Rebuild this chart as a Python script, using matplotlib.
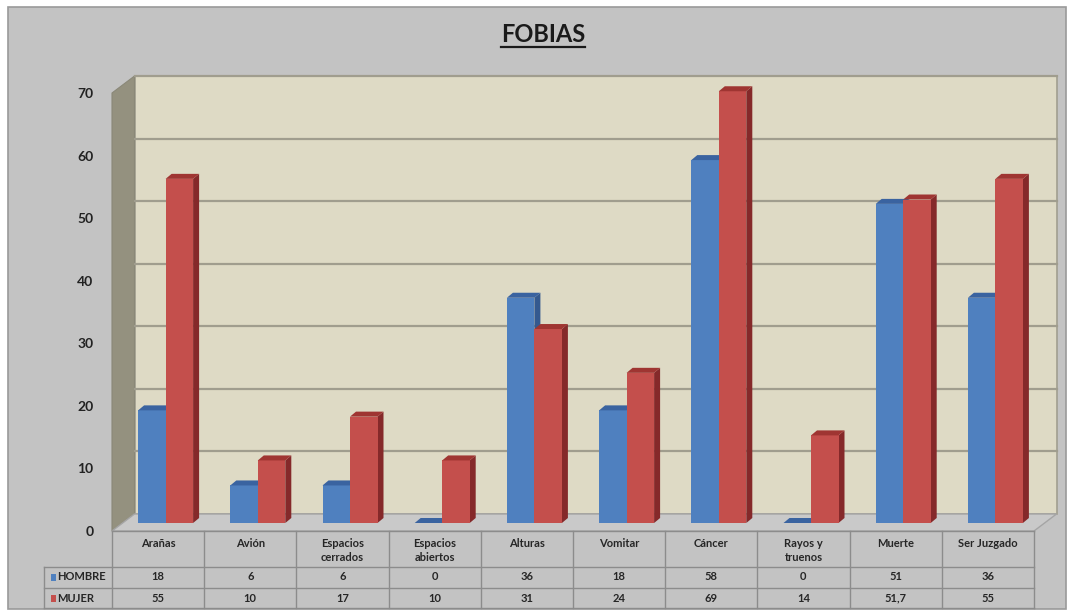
import matplotlib.pyplot as plt
import matplotlib.transforms as mtransforms
from matplotlib.patches import Polygon, Rectangle
from matplotlib.lines import Line2D

plt.rcParams['font.family'] = ['Lato', 'DejaVu Sans']

categories = ["Arañas", "Avión", "Espacios\ncerrados", "Espacios\nabiertos", "Alturas",
              "Vomitar", "Cáncer", "Rayos y\ntruenos", "Muerte", "Ser Juzgado"]
hombre = [18, 6, 6, 0, 36, 18, 58, 0, 51, 36]
mujer = [55, 10, 17, 10, 31, 24, 69, 14, 51.7, 55]
series_names = ["HOMBRE", "MUJER"]
yticks = [0, 10, 20, 30, 40, 50, 60, 70]

W, H = 1071, 614
fig = plt.figure(figsize=(W / 100, H / 100), dpi=100)
fig.patch.set_facecolor('white')


def fx(px):
    return px / W


def fy(py):
    return 1 - py / H


# outer chart frame (kept behind the axes)
fig.patches.append(Rectangle((fx(8), fy(609)), fx(1066) - fx(8), fy(7) - fy(609),
                             transform=fig.transFigure, facecolor='#c3c3c3',
                             edgecolor='#9a9a9a', lw=1.2, zorder=-10))

# plot area: y value 0 at pixel 531, 70 at pixel 93
ppu = (531 - 93) / 70.0
ytop = 75
ax = fig.add_axes([fx(112), fy(531), fx(1034) - fx(112), (ytop * ppu) / H])
ax.set_xlim(-0.5, 9.5)
ax.set_ylim(0, ytop)
ax.patch.set_visible(False)
for s in ax.spines.values():
    s.set_visible(False)
ax.set_xticks([])
ax.set_yticks(yticks)
ax.set_yticklabels([str(t) for t in yticks], fontsize=10, fontweight='bold', color='#222222')
ax.tick_params(axis='y', length=0, pad=13.5)

cw = (1034 - 112) / 10.0
DX, DY = 22.5 / cw, 17 / ppu          # wall depth
ox, oy = 7.5 / cw, 8 / ppu            # bar front plane
ddx, ddy = 6 / cw, 5 / ppu            # bar depth
bw = 27.5 / cw
x0, x1 = -0.5, 9.5
wmax = 70

# back wall, side wall, floor
ax.add_patch(Polygon([(x0 + DX, DY), (x1 + DX, DY), (x1 + DX, wmax + DY), (x0 + DX, wmax + DY)],
                     facecolor='#dedac5', edgecolor='#a19e90', lw=1.2, zorder=1, clip_on=False))
ax.add_patch(Polygon([(x0, 0), (x0 + DX, DY), (x0 + DX, wmax + DY), (x0, wmax)],
                     facecolor='#94917f', edgecolor='#8a8878', lw=0.8, zorder=1, clip_on=False))
ax.add_patch(Polygon([(x0, 0), (x1, 0), (x1 + DX, DY), (x0 + DX, DY)],
                     facecolor='#c9c9c9', edgecolor='#a5a5a5', lw=1.0, zorder=1, clip_on=False))
for v in yticks[1:]:
    ax.plot([x0 + DX, x1 + DX], [v + DY, v + DY], color='#a09d8e', lw=1.6, zorder=1.5,
            clip_on=False)

blue = dict(front='#4f80bf', top='#3a63a0', side='#34598f')
red = dict(front='#c44f4c', top='#9f3532', side='#85292a')

for i in range(len(categories)):
    for j, (vals, col) in enumerate([(hombre, blue), (mujer, red)]):
        v = vals[i]
        left = i + ox - bw + j * bw
        right = left + bw
        z = 3 + i + j * 0.5
        ax.add_patch(Polygon([(right, oy), (right + ddx, oy + ddy), (right + ddx, oy + v + ddy),
                              (right, oy + v)], facecolor=col['side'], lw=0, zorder=z,
                             clip_on=False))
        ax.bar(left, v, width=bw, bottom=oy, align='edge', color=col['front'], lw=0,
               zorder=z + 0.1, clip_on=False)
        ax.add_patch(Polygon([(left, oy + v), (right, oy + v), (right + ddx, oy + v + ddy),
                              (left + ddx, oy + v + ddy)], facecolor=col['top'], lw=0,
                             zorder=z + 0.2, clip_on=False))

# data table below the plot
tr = mtransforms.blended_transform_factory(ax.transData, fig.transFigure)
lc = '#8c8c8c'
xleg = x0 - (112 - 44) / cw
rows = [531, 567, 588, 608]
ax.plot([x0, x1], [fy(531), fy(531)], transform=tr, color=lc, lw=1, clip_on=False)
for r in rows[1:]:
    ax.plot([xleg, x1], [fy(r), fy(r)], transform=tr, color=lc, lw=1, clip_on=False)
for k in range(len(categories) + 1):
    ax.plot([k - 0.5, k - 0.5], [fy(531), fy(608)], transform=tr, color=lc, lw=1,
            clip_on=False)
ax.plot([xleg, xleg], [fy(567), fy(608)], transform=tr, color=lc, lw=1, clip_on=False)

tkw = dict(fontsize=8, fontweight='bold', color='#262626', transform=tr, ha='center')
for i, c in enumerate(categories):
    ax.text(i, fy(538), c, va='top', linespacing=1.3, **tkw)
    ax.text(i, fy(577), f"{hombre[i]:g}".replace('.', ','), va='center', **tkw)
    ax.text(i, fy(598), f"{mujer[i]:g}".replace('.', ','), va='center', **tkw)

for name, col, yc in [(series_names[0], blue['front'], 577), (series_names[1], red['front'], 598)]:
    fig.patches.append(Rectangle((fx(51), fy(yc + 3.5)), fx(5), 7 / H, transform=fig.transFigure,
                                 facecolor=col, lw=0))
    fig.text(fx(57), fy(yc), name, fontsize=8, fontweight='bold', color='#262626',
             va='center', ha='left')

# title with underline
title = fig.text(fx(543), fy(35), "FOBIAS", fontsize=17, fontweight='bold', color='#1a1a1a',
                 ha='center', va='center')
fig.canvas.draw()
bb = title.get_window_extent()
fig.lines.append(Line2D([bb.x0 / W, bb.x1 / W], [fy(47), fy(47)], transform=fig.transFigure,
                        color='#1a1a1a', lw=1.6))

fig.savefig('out.png', dpi=100)
